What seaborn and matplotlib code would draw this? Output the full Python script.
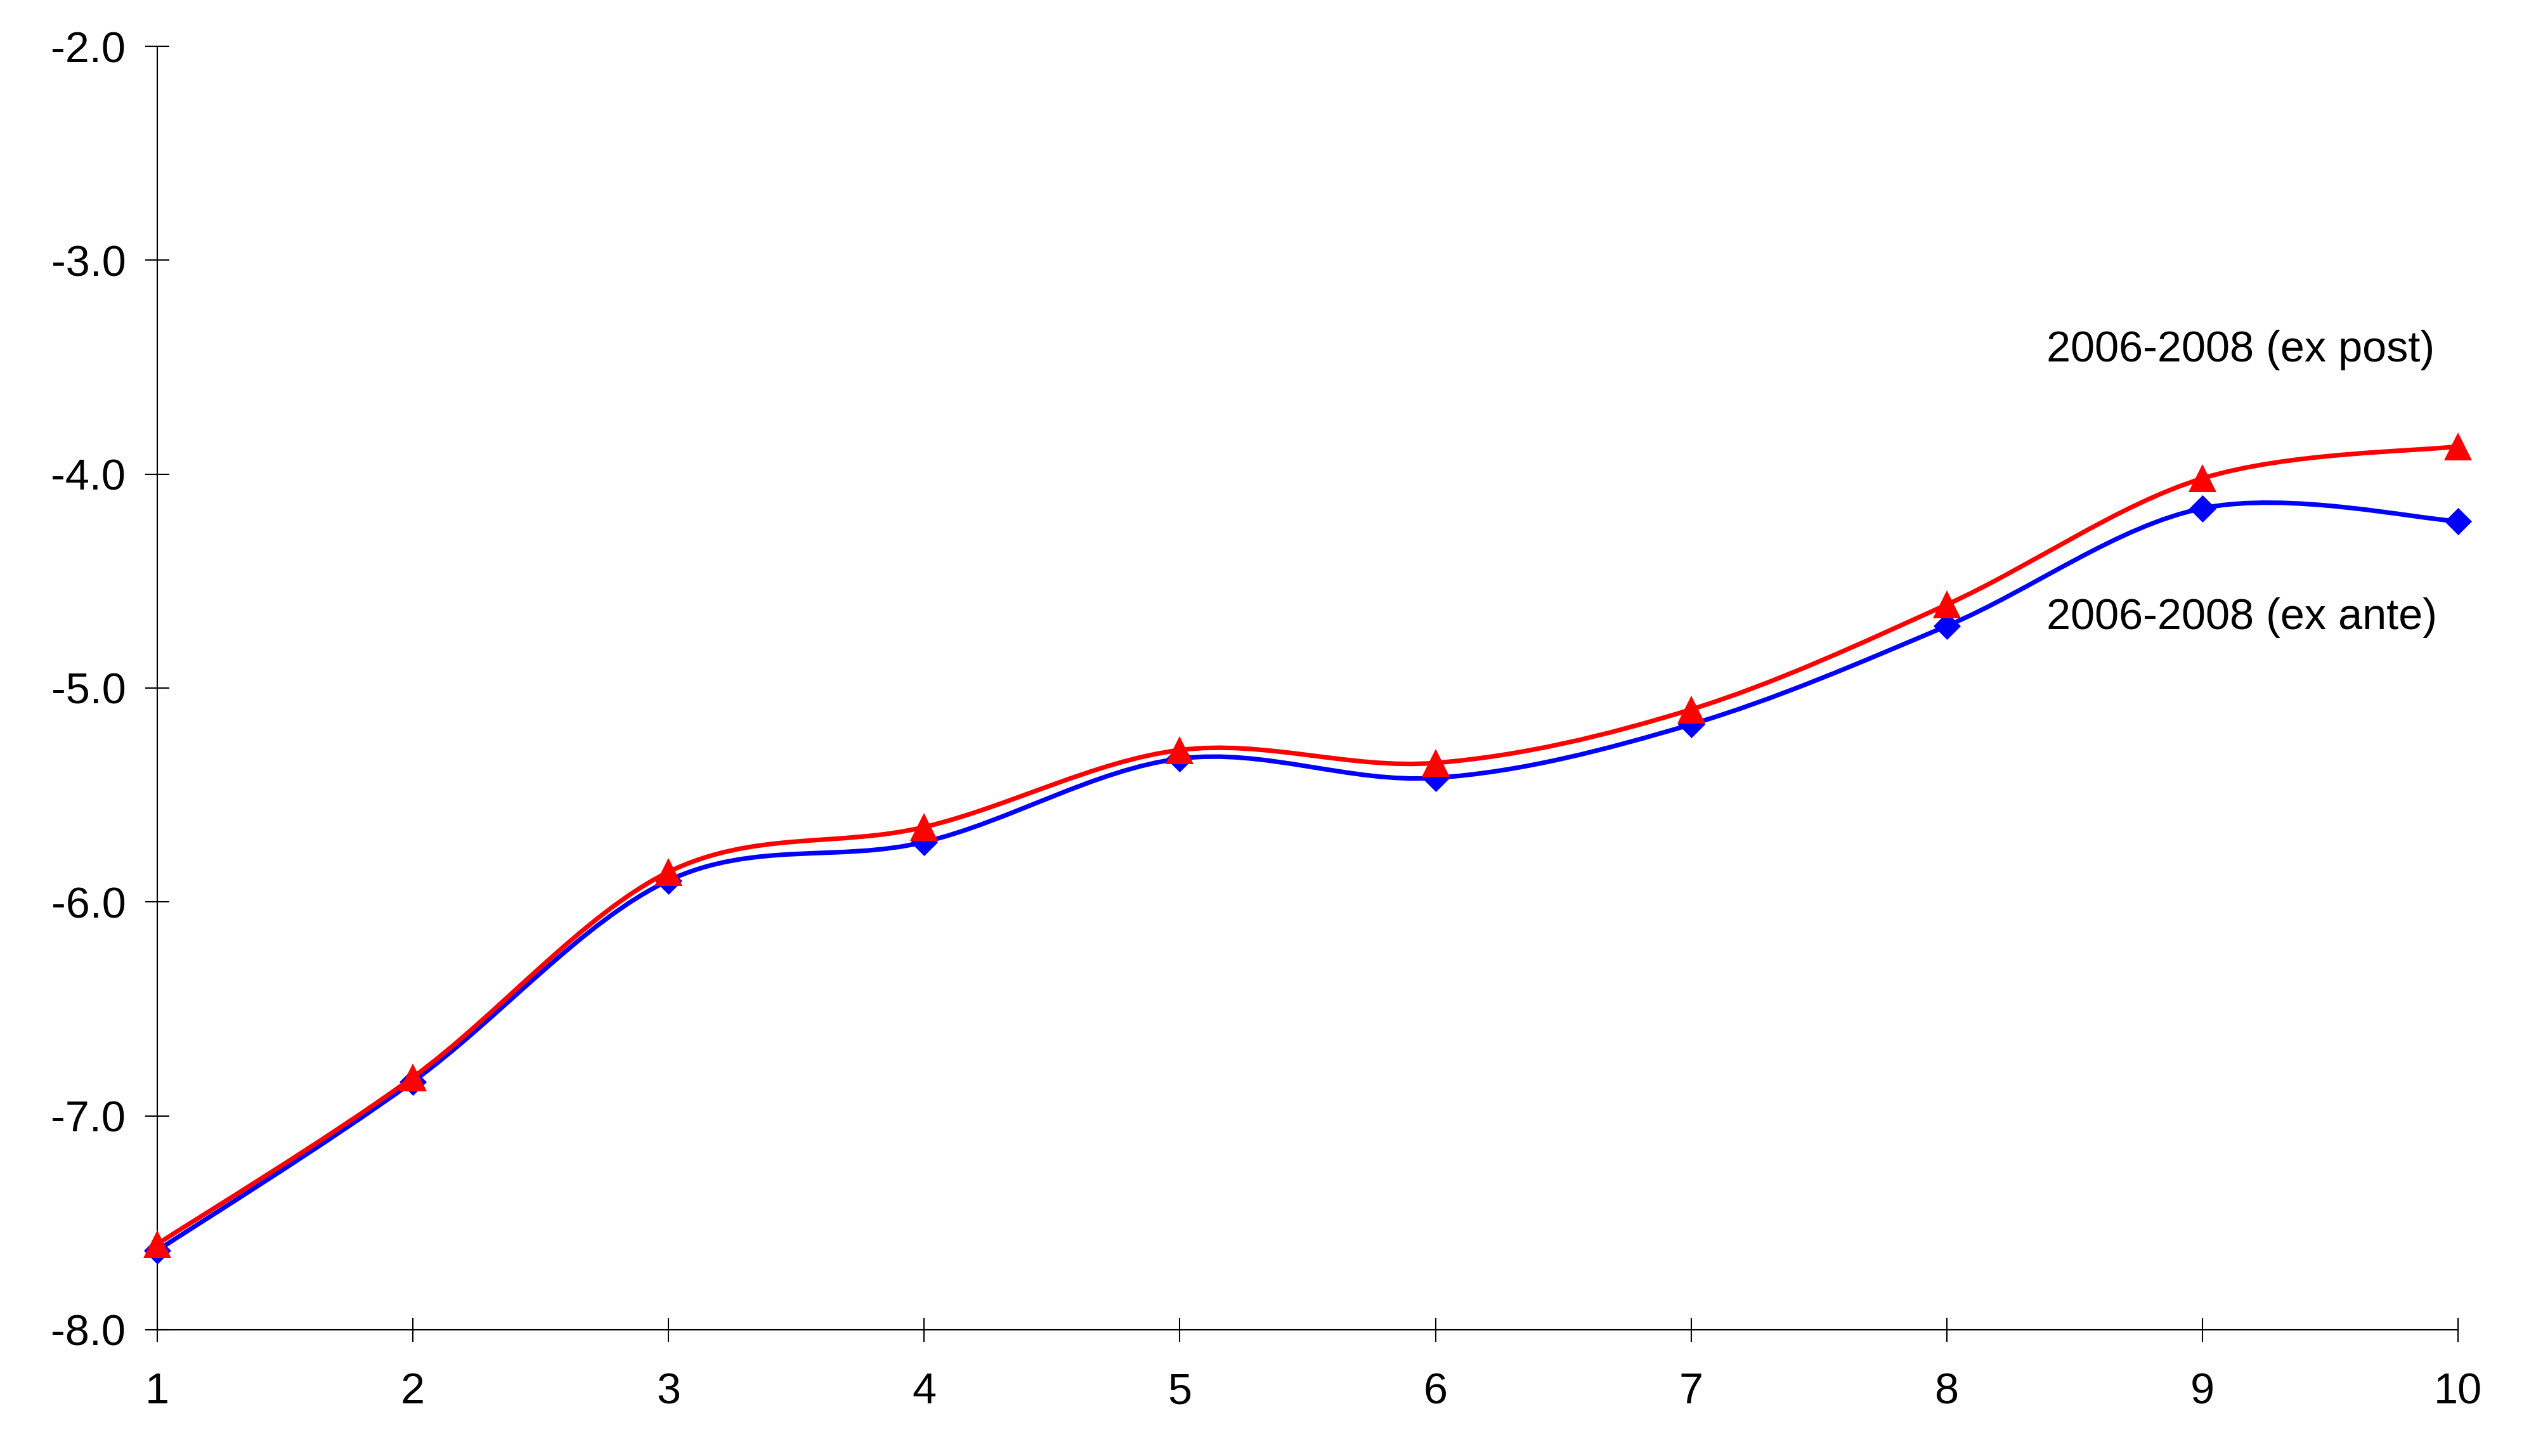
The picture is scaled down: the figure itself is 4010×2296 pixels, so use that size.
import numpy as np
import pandas as pd
import matplotlib
matplotlib.use("Agg")
import matplotlib.pyplot as plt
import seaborn as sns
from matplotlib.path import Path
from matplotlib.patches import PathPatch

# values
periods = [1, 2, 3, 4, 5, 6, 7, 8, 9, 10]
ex_ante = [-7.63, -6.84, -5.90, -5.72, -5.33, -5.42, -5.17, -4.71, -4.16, -4.22]
ex_post = [-7.60, -6.82, -5.86, -5.65, -5.29, -5.35, -5.10, -4.61, -4.02, -3.87]
y_ticks = [-8.0, -7.0, -6.0, -5.0, -4.0, -3.0, -2.0]
label_post = "2006-2008 (ex post)"
label_ante = "2006-2008 (ex ante)"

df = pd.DataFrame({"period": periods, "ex_ante": ex_ante, "ex_post": ex_post})

sns.set_theme(style="white")
plt.rcParams["font.family"] = ["Liberation Sans", "DejaVu Sans"]
plt.rcParams["axes.unicode_minus"] = False
plt.rcParams["text.color"] = "black"


def smooth_curve(x, y):
    # Excel-style smoothed line: cubic Bezier segments between the points
    pts = np.column_stack([x, y]).astype(float)
    n = len(pts)
    verts = [pts[0]]
    codes = [Path.MOVETO]
    for i in range(n - 1):
        p0 = pts[max(i - 1, 0)]
        p1 = pts[i]
        p2 = pts[i + 1]
        p3 = pts[min(i + 2, n - 1)]
        verts += [p1 + (p2 - p0) / 6, p2 - (p3 - p1) / 6, p2]
        codes += [Path.CURVE4] * 3
    return Path(verts, codes)


fig = plt.figure(figsize=(20.05, 11.48), dpi=200)
ax = fig.add_axes([0.0618, 0.0867, 0.9048, 0.8815])

dia = [(0, 1), (1, 0), (0, -1), (-1, 0), (0, 1)]

ax.add_patch(PathPatch(smooth_curve(df["period"], df["ex_ante"]), facecolor="none",
                       edgecolor="#0000ff", lw=2.6, zorder=2))
sns.lineplot(data=df, x="period", y="ex_ante", ax=ax, color="#0000ff", linestyle="none",
             marker=dia, markersize=15.5, markeredgewidth=0, zorder=3, clip_on=False)
ax.add_patch(PathPatch(smooth_curve(df["period"], df["ex_post"]), facecolor="none",
                       edgecolor="#ff0000", lw=2.6, zorder=4))
sns.lineplot(data=df, x="period", y="ex_post", ax=ax, color="#ff0000", linestyle="none",
             marker="^", markersize=15.5, markeredgewidth=0, zorder=5, clip_on=False)

ax.text(8.39, -3.42, label_post, fontsize=24.6, va="center", ha="left", color="black")
ax.text(8.39, -4.67, label_ante, fontsize=24.6, va="center", ha="left", color="black")

ax.set_xlim(1, 10)
ax.set_ylim(-8, -2)
ax.set_xticks(periods)
ax.set_yticks(y_ticks)
ax.set_yticklabels([f"{v:.1f}" for v in y_ticks])
ax.set_xlabel("")
ax.set_ylabel("")
ax.tick_params(axis="both", direction="inout", length=13.6, width=0.75, labelsize=24.6,
               color="black", labelcolor="black", bottom=True, left=True)
ax.tick_params(axis="y", pad=11)
ax.tick_params(axis="x", pad=17)
for side in ["top", "right"]:
    ax.spines[side].set_visible(False)
for side in ["left", "bottom"]:
    ax.spines[side].set_color("black")
    ax.spines[side].set_linewidth(0.75)

fig.savefig("out.png", dpi=200, facecolor="white")
